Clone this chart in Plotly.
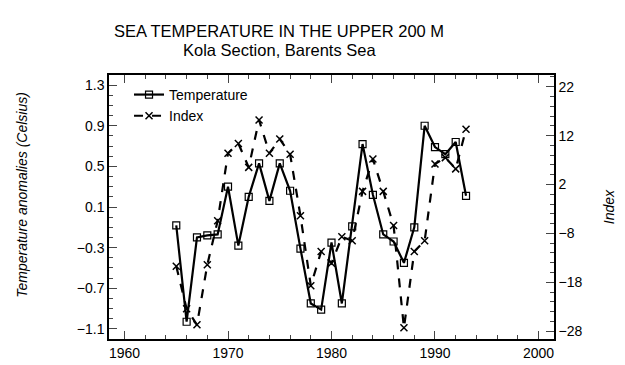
import plotly.graph_objects as go

years = list(range(1965, 1994))
temperature = [-0.08, -1.03, -0.20, -0.18, -0.17, 0.30, -0.28, 0.20, 0.53, 0.16,
               0.53, 0.26, -0.31, -0.85, -0.91, -0.25, -0.85, -0.09, 0.72, 0.22,
               -0.17, -0.24, -0.45, -0.10, 0.90, 0.69, 0.62, 0.74, 0.21]
index_vals = [-14.7, -23.4, -26.7, -14.4, -5.4, 8.4, 10.4, 5.5, 15.2, 8.4,
              11.3, 8.2, -4.4, -18.7, -11.7, -14.1, -8.7, -9.5, 0.6, 7.2,
              0.6, -6.4, -27.3, -11.7, -9.5, 6.2, 7.5, 5.2, 13.3]
title_lines = ["SEA TEMPERATURE IN THE UPPER 200 M", "Kola Section, Barents Sea"]

FONT = "Liberation Sans, Arial, Helvetica, sans-serif"
W, H = 625, 365
L, R, T, B = 101, 79, 67, 27
PW, PH = W - L - R, H - T - B

fig = go.Figure()
fig.add_trace(go.Scatter(
    x=years, y=temperature, name="Temperature", mode="lines+markers",
    line=dict(color="black", width=2.2),
    marker=dict(symbol="square-open", size=7, color="black", line=dict(width=1.2)),
    yaxis="y"))
fig.add_trace(go.Scatter(
    x=years, y=index_vals, name="Index", mode="lines+markers",
    line=dict(color="black", width=2.2, dash="dash"),
    marker=dict(symbol="x-thin-open", size=7, color="black", line=dict(width=1.5, color="black")),
    yaxis="y2"))

fig.update_layout(
    width=W, height=H,
    margin=dict(l=L, r=R, t=T, b=B),
    paper_bgcolor="white", plot_bgcolor="white",
    font=dict(family=FONT, color="black", size=14),
    showlegend=True,
    legend=dict(x=0.045, y=0.985, xanchor="left", yanchor="top",
                bgcolor="rgba(0,0,0,0)", font=dict(size=14), tracegroupgap=0),
    xaxis=dict(range=[1958.5, 2001.5], tick0=1960, dtick=10, ticks="inside", ticklen=8,
               showline=True, linecolor="black", linewidth=1.5, mirror="ticks",
               showgrid=False, zeroline=False, tickfont=dict(size=14),
               minor=dict(dtick=2, tick0=1960, ticks="inside", ticklen=4, showgrid=False)),
    yaxis=dict(range=[-1.2, 1.4], tick0=1.3, dtick=0.4, tickformat=".1f",
               ticks="inside", ticklen=8, showline=True, linecolor="black", linewidth=1.5,
               mirror=True, showgrid=False, zeroline=False, tickfont=dict(size=14),
               minor=dict(dtick=0.1, tick0=1.3, ticks="inside", ticklen=4, showgrid=False)),
    yaxis2=dict(range=[-29.6, 24.4], tick0=22, dtick=10, overlaying="y", side="right",
                ticks="inside", ticklen=8, showline=True, linecolor="black", linewidth=1.5,
                showgrid=False, zeroline=False, tickfont=dict(size=14), automargin=False,
                title=dict(text="<i>Index</i>", standoff=23,
                           font=dict(size=14, family=FONT, color="black")),
                minor=dict(dtick=2, tick0=22, ticks="inside", ticklen=4, showgrid=False)),
)

def px_x(px):
    return (px - L) / PW

def px_y(py):
    return (H - B - py) / PH

for text, cy in zip(title_lines, [22, 41]):
    fig.add_annotation(text=text, xref="paper", yref="paper", x=px_x(271), y=px_y(cy),
                       xanchor="center", yanchor="middle", showarrow=False,
                       font=dict(size=16.5, family=FONT, color="black"))

fig.add_annotation(text="<i>Temperature anomalies (Celsius)</i>", textangle=-90,
                   xref="paper", yref="paper", x=px_x(14), y=px_y(190),
                   xanchor="center", yanchor="middle", showarrow=False,
                   font=dict(size=14, family=FONT, color="black"))

fig.write_html("out.html")
